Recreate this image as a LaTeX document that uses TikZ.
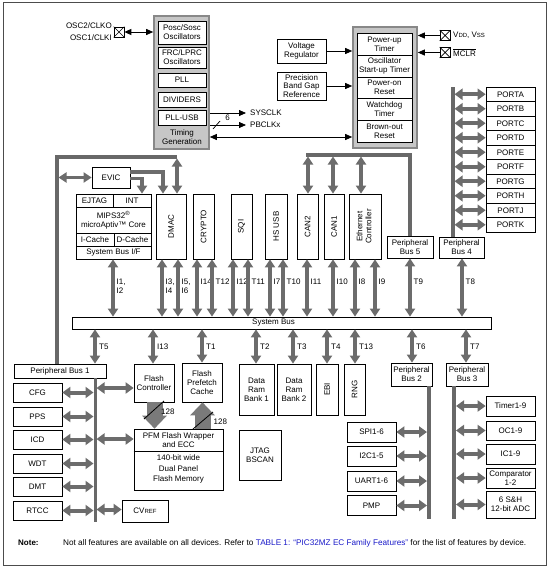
\documentclass[tikz,border=0pt]{standalone}
\usepackage{fontspec}
\usepackage{graphicx}
\setmainfont{Liberation Sans}
\usetikzlibrary{arrows.meta,calc}
\definecolor{arrgray}{HTML}{6C6C6C}
\definecolor{busgray}{HTML}{686868}
\definecolor{boxgray}{HTML}{C6C6C6}
\definecolor{framegray}{HTML}{888888}
\definecolor{fatgray}{HTML}{7A7A7A}
\definecolor{noteblue}{HTML}{1A1AC8}
\begin{document}
\begin{tikzpicture}[x=1pt,y=-1pt,
  every node/.style={font=\fontsize{8}{9}\selectfont, inner sep=0pt, align=center},
  bx/.style 2 args={draw, fill=white, line width=0.7pt, minimum width=#1pt, minimum height=#2pt},
  gbx/.style 2 args={draw=framegray, fill=boxgray, line width=1.6pt, minimum width=#1pt, minimum height=#2pt},
  pinbox/.style={draw, fill=white, line width=0.7pt, minimum size=10pt},
  darr/.style={draw=arrgray, line width=3.5pt, {Triangle[width=10pt,length=8pt]}-{Triangle[width=10pt,length=8pt]}},
  harr/.style={draw=arrgray, line width=4pt, {Triangle[width=11pt,length=8pt]}-{Triangle[width=11pt,length=8pt]}},
  sarr/.style={draw=arrgray, line width=3.5pt, -{Triangle[width=10pt,length=8pt]}},
  fatarr/.style={draw=fatgray, line width=16pt, -{Triangle[width=24pt,length=13pt]}},
  busline/.style={draw=busgray, line width=3.5pt},
  busthin/.style={draw=busgray, line width=3pt},
  tarr/.style={draw=black, line width=0.8pt, -{Triangle[width=6pt,length=7pt]}},
  tarrb/.style={draw=black, line width=0.8pt, {Triangle[width=6pt,length=7pt]}-{Triangle[width=6pt,length=7pt]}}
]
\useasboundingbox (0,0) rectangle (549,570);
\draw[line width=1pt, draw=black!70] (3,2) rectangle (546,565);

% ---------- Timing generation ----------
\node[gbx={55}{133}] (tg) at (181.5,82.5) {};
\node[bx={48}{23}] (posc) at (182,32.5) {Posc/Sosc\\Oscillators};
\node[bx={48}{21}] (frc) at (182,57.5) {FRC/LPRC\\Oscillators};
\node[bx={48}{14}] (pll) at (182,80) {PLL};
\node[bx={48}{15}] (div) at (182,99.5) {DIVIDERS};
\node[bx={48}{15}] (pllusb) at (182,117.5) {PLL-USB};
\node (tgl) at (182,137.5) {Timing\\Generation};

\node[pinbox] (oscpin) at (119,32) {};
\draw[line width=0.7pt] (oscpin.north west) -- (oscpin.south east) (oscpin.north east) -- (oscpin.south west);
\node[anchor=east] (osc2) at (112,26) {OSC2/CLKO};
\node[anchor=east] (osc1) at (112,37.5) {OSC1/CLKI};
\draw[tarrb] (oscpin.east) -- (oscpin -| tg.west);

\node[anchor=west] (sysclk) at (250,113) {SYSCLK};
\node[anchor=west] (pbclk) at (250,125) {PBCLKx};
\draw[tarr, shorten >=4pt] (sysclk.west -| tg.east) -- (sysclk.west);
\draw[tarr, shorten >=4pt] (pbclk.west -| tg.east) -- (pbclk.west);
\draw[line width=0.7pt] (213,129) -- (220,121);
\node (six) at (227.5,117.5) {6};

% ---------- Reset block ----------
\node[gbx={64}{121}] (rst) at (385,87.5) {};
\node[bx={55}{22}] (put) at (384.5,44) {Power-up\\Timer};
\node[bx={55}{22}] (ost) at (384.5,66) {Oscillator\\Start-up Timer};
\node[bx={55}{21.5}] (por) at (384.5,87.75) {Power-on\\Reset};
\node[bx={55}{21.5}] (wdtm) at (384.5,109.25) {Watchdog\\Timer};
\node[bx={55}{22}] (bor) at (384.5,131) {Brown-out\\Reset};

\coordinate (back) at (280,137);
\draw[tarrb] (back -| tg.east) -- (back -| rst.west);

\node[bx={49}{24}] (vreg) at (301.5,51) {Voltage\\Regulator};
\node[bx={49}{28}, font=\fontsize{8}{8.3}\selectfont] (pbg) at (301.5,86) {Precision\\Band Gap\\Reference};
\draw[tarr] (vreg.east) -- (vreg.east -| rst.west);
\draw[tarr] (pbg.east) -- (pbg.east -| rst.west);

\node[pinbox] (vddpin) at (445,35.5) {};
\draw[line width=0.7pt] (vddpin.north west) -- (vddpin.south east) (vddpin.north east) -- (vddpin.south west);
\node[anchor=west] (vdd) at (453,35.5) {V{\fontsize{6}{6}\selectfont DD}, V{\fontsize{6}{6}\selectfont SS}};
\draw[tarr] (vddpin.west) -- (vddpin.west -| rst.east);
\node[pinbox] (mclrpin) at (445,52.5) {};
\draw[line width=0.7pt] (mclrpin.north west) -- (mclrpin.south east) (mclrpin.north east) -- (mclrpin.south west);
\node[anchor=west] (mclr) at (453,52.5) {$\overline{\mbox{MCLR}}$};
\draw[tarr] (mclrpin.west) -- (mclrpin.west -| rst.east);

% ---------- Ports ----------
\coordinate (ptop) at (453,87);
\coordinate (pbr) at (454.5,0);
\node[bx={45}{21}] (pb4) at (461.5,247.5) {Peripheral\\Bus 4};
\draw[busline] (ptop) -- (pb4.north -| ptop);
\foreach \n [count=\i from 0] in {A,B,C,D,E,F,G,H,J,K} {
  \node[bx={49}{14.5}] (port\n) at (510.5,{94.25+14.5*\i}) {PORT\n};
  \draw[harr] (port\n.west -| pbr) -- (port\n.west);
}

% ---------- Core area ----------
\node[bx={46}{22}] (pb5) at (410,247) {Peripheral\\Bus 5};
\coordinate (trc) at (306,155);
\draw[busline] (pb5.north) |- (trc);

\node[bx={38}{21}] (evic) at (111,177.5) {EVIC};
\node[bx={37}{13}] (ejtag) at (94.5,200.5) {EJTAG};
\node[bx={38}{13}] (int) at (132,200.5) {INT};
\node[bx={75}{26}] (core) at (113.5,220) {MIPS32\textsuperscript{®}\\microAptiv™ Core};
\node[bx={38}{13}] (icache) at (95,239.5) {I-Cache};
\node[bx={37}{13}] (dcache) at (132.5,239.5) {D-Cache};
\node[bx={75}{13}] (sbif) at (113.5,252.5) {System Bus I/F};

\node[bx={30}{65}] (dmac) at (171,226.5) {\rotatebox{90}{DMAC}};
\node[bx={21}{65}] (crypto) at (203.5,226.5) {\rotatebox{90}{CRYPTO}};
\node[bx={21}{65}] (sqi) at (241.5,226.5) {\rotatebox{90}{SQI}};
\node[bx={22}{65}] (hsusb) at (276,226.5) {\rotatebox{90}{HS USB}};
\node[bx={21}{65}] (can2) at (307.5,226.5) {\rotatebox{90}{CAN2}};
\node[bx={20}{65}] (can1) at (334,226.5) {\rotatebox{90}{CAN1}};
\node[bx={32}{65}] (eth) at (365,226.5) {\rotatebox{90}{\begin{tabular}{@{}c@{}}Ethernet\\Controller\end{tabular}}};

\coordinate (ca1) at (308,0);
\coordinate (ca2) at (333,0);
\coordinate (ca3) at (361,0);
\draw[darr, shorten <=1.5pt] (ca1 |- trc) -- (ca1 |- can2.north);
\draw[darr, shorten <=1.5pt] (ca2 |- trc) -- (ca2 |- can1.north);
\draw[darr, shorten <=1.5pt] (ca3 |- trc) -- (ca3 |- eth.north);

\node[bx={92}{14}] (pb1) at (60,371) {Peripheral Bus 1};
\coordinate (lx) at (57,0);
\coordinate (tlc) at (177,157);
\draw[busline] (pb1.north -| lx) |- (tlc);
\draw[darr, shorten <=1.5pt] (tlc) -- (tlc |- dmac.north);
\draw[darr, shorten <=1.5pt] (evic.west -| lx) -- (evic.west);
\coordinate (e1) at (163,172);
\coordinate (e2) at (142,178.5);
\draw[sarr] (evic.east |- e1) -| (dmac.north -| e1);
\draw[sarr] (evic.east |- e2) -| (int.north -| e2);

% ---------- System bus ----------
\node[bx={419}{12}] (sysbus) at (281.5,323) {\hspace*{-16pt}System Bus};

\foreach \s/\x/\l in {sbif/113/{I1,\\I2}, dmac/162/{I3,\\I4}, dmac/178/{I5,\\I6}, crypto/197/I14, crypto/212/T12, sqi/233/I12, sqi/248/T11, hsusb/270/I7, hsusb/283/T10, can2/307/I11, can1/333/I10, eth/355/I8, eth/375/I9, pb5/410/T9, pb4/462/T8} {
  \coordinate (u\x) at (\x,300);
  \draw[darr] (\s.south -| u\x) -- (sysbus.north -| u\x);
  \node[anchor=north west, align=left] (lab\x) at (\x+3.5,278.5) {\l};
}

% ---------- Below system bus ----------
\node[bx={40}{38}] (fc) at (154,383) {Flash\\Controller};
\node[bx={40}{39}] (fpc) at (202,382.5) {Flash\\Prefetch\\Cache};
\node[bx={35}{51}] (dram1) at (256.5,389.5) {Data\\Ram\\Bank 1};
\node[bx={34}{51}] (dram2) at (294,389.5) {Data\\Ram\\Bank 2};
\node[bx={22}{51}] (ebi) at (327,389.5) {\rotatebox{90}{EBI}};
\node[bx={21}{51}] (rng) at (354.5,389.5) {\rotatebox{90}{RNG}};
\node[bx={41}{23}] (pb2) at (411.5,374.5) {Peripheral\\Bus 2};
\node[bx={42}{23}] (pb3) at (467,374.5) {Peripheral\\Bus 3};

\foreach \t/\x/\l in {pb1/95/T5, fc/153/I13, fpc/202/T1, dram1/256/T2, dram2/293/T3, ebi/327/T4, rng/355/T13, pb2/412/T6, pb3/466/T7} {
  \coordinate (d\x) at (\x,340);
  \draw[darr] (sysbus.south -| d\x) -- (\t.north -| d\x);
  \node[anchor=west] (labd\x) at (\x+4,347) {\l};
}

% Peripheral bus 1
\coordinate (b1) at (95,0);
\coordinate (b1b) at (95,522);
\coordinate (b1l) at (93.5,0);
\draw[busthin] (pb1.south -| b1) -- (b1b);
\foreach \n/\y in {CFG/392.5, PPS/416.5, ICD/439.5, WDT/463.5, DMT/486.5, RTCC/510.5} {
  \node[bx={49}{19}] (\n) at (37.5,\y) {\n};
  \draw[harr] (\n.east) -- (\n.east -| b1l);
}
\node[bx={89}{61}] (pfm) at (178.5,459.5) {};
\coordinate (dv) at (178.5,451);
\draw[line width=0.7pt] (pfm.west |- dv) -- (pfm.east |- dv);
\node (pfmt) at (178.5,440.5) {PFM Flash Wrapper\\and ECC};
\node[font=\fontsize{8}{10.5}\selectfont] (pfmb) at (178.5,469) {140-bit wide\\Dual Panel\\Flash Memory};
\node[bx={46}{22}] (cvref) at (145,511) {CV{\fontsize{6}{6}\selectfont REF}};
\node[bx={42}{50}] (jtag) at (260,455) {JTAG\\BSCAN};

\coordinate (r1) at (96.5,388);
\coordinate (r2) at (96.5,439);
\coordinate (r3) at (96.5,509.5);
\draw[harr] (r1) -- (r1 -| fc.west);
\draw[harr] (r2) -- (r2 -| pfm.west);
\draw[harr] (r3) -- (r3 -| cvref.west);

% Flash fat arrows
\coordinate (fa) at (154.5,0);
\coordinate (fb) at (202.5,0);
\draw[fatarr] (fc.south -| fa) -- (pfm.north -| fa);
\draw[fatarr] (pfm.north -| fb) -- (fpc.south -| fb);
\draw[line width=0.8pt] (144,419) -- (164,401);
\node[anchor=west] (n128a) at (161,412) {128};
\draw[line width=0.8pt] (193,429) -- (213,412);
\node[anchor=west] (n128b) at (213.5,422) {128};

% Peripheral bus 2
\coordinate (b2b) at (429,519);
\coordinate (b2l) at (427,0);
\draw[busline] (pb2.south -| b2b) -- (b2b);
\foreach \n/\l/\y in {spi/SPI1-6/432, i2c/I2C1-5/456, uart/UART1-6/481, pmp/PMP/505.5} {
  \node[bx={49}{20}] (\n) at (371.5,\y) {\l};
  \draw[harr] (\n.east) -- (\n.east -| b2l);
}

% Peripheral bus 3
\coordinate (b3b) at (454,519);
\coordinate (b3r) at (456,0);
\draw[busline] (pb3.south -| b3b) -- (b3b);
\foreach \n/\l/\y/\h in {tmr/Timer1-9/406/20, oc/OC1-9/430.5/19, ic/IC1-9/454/20, cmp/{Comparator\\1-2}/478/20, adc/{6 S\&H\\12-bit ADC}/504.5/27} {
  \node[bx={49}{\h}] (\n) at (510.5,\y) {\l};
  \draw[harr] (b3r |- \n.west) -- (\n.west);
}

% ---------- Note ----------
\node[anchor=west, font=\bfseries\fontsize{8}{9}\selectfont] (note) at (18,543) {Note:};
\node[anchor=west, font=\fontsize{8.2}{9}\selectfont] (notetext) at (63,543) {Not all features are available on all devices. Refer to \textcolor{noteblue}{TABLE 1: “PIC32MZ EC Family Features”} for the list of features by device.};
\end{tikzpicture}
\end{document}
